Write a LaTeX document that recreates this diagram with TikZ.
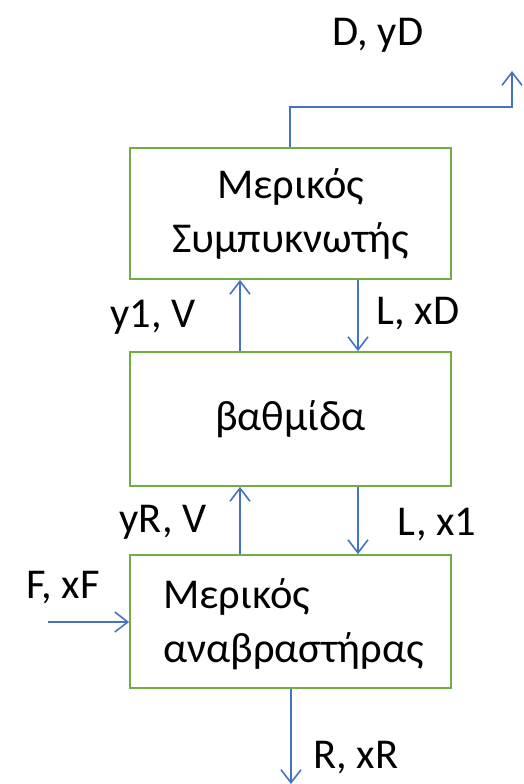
\documentclass[tikz,border=0pt]{standalone}
\usepackage{fontspec}
\setmainfont{Carlito}
\usetikzlibrary{arrows.meta}
\definecolor{boxgreen}{HTML}{70AD47}
\definecolor{flowblue}{HTML}{4472C4}
\tikzset{
  unit/.style={draw=boxgreen, line width=1.8pt, minimum width=321pt, inner sep=0pt, font=\fontsize{42.5}{54}\selectfont},
  flow/.style={draw=flowblue, line width=1.6pt, -{Straight Barb[length=13pt,width=20pt,line width=1.6pt]}},
  lbl/.style={font=\fontsize{42.5}{54}\selectfont, inner sep=0pt},
  boxtext/.style={font=\fontsize{42.5}{54}\selectfont, inner sep=0pt}
}
\begin{document}
\begin{tikzpicture}[x=1pt,y=-1pt]
\useasboundingbox (0,0) rectangle (524,784);
\node[unit, minimum height=131pt, align=center] (b1) at (290.5,213.5) {Μερικός\\Συμπυκνωτής};
\node[unit, minimum height=134pt] (b2) at (290.5,419) {βαθμίδα};
\node[unit, minimum height=133pt] (b3) at (290.5,621.5) {};
\node[boxtext, align=left, anchor=west] (t3) at (163,624) {Μερικός\\αναβραστήρας};
\coordinate (xv) at (240,0);
\coordinate (xl) at (358,0);
\coordinate (xd) at (290,0);
\coordinate (d1) at (290,107);
\coordinate (d2) at (512,107);
\coordinate (d3) at (512,71);
\coordinate (fin) at (48,622);
\coordinate (rout) at (291,784);
\draw[flow] (b1.north -| xd) -- (d1) -- (d2) -- (d3);
\draw[flow] (b2.north -| xv) -- (b1.south -| xv);
\draw[flow] (b1.south -| xl) -- (b2.north -| xl);
\draw[flow] (b3.north -| xv) -- (b2.south -| xv);
\draw[flow] (b2.south -| xl) -- (b3.north -| xl);
\draw[flow] (fin) -- (b3.west |- fin);
\draw[flow] (b3.south -| rout) -- (rout);
\node[lbl] (ld) at (378,35) {D, yD};
\node[lbl] (ly1) at (153,317) {y1, V};
\node[lbl] (lxd) at (418,314) {L, xD};
\node[lbl] (lyr) at (163,522) {yR, V};
\node[lbl] (lx1) at (437,525) {L, x1};
\node[lbl] (lf) at (63,588) {F, xF};
\node[lbl] (lr) at (356,758) {R, xR};
\end{tikzpicture}
\end{document}
